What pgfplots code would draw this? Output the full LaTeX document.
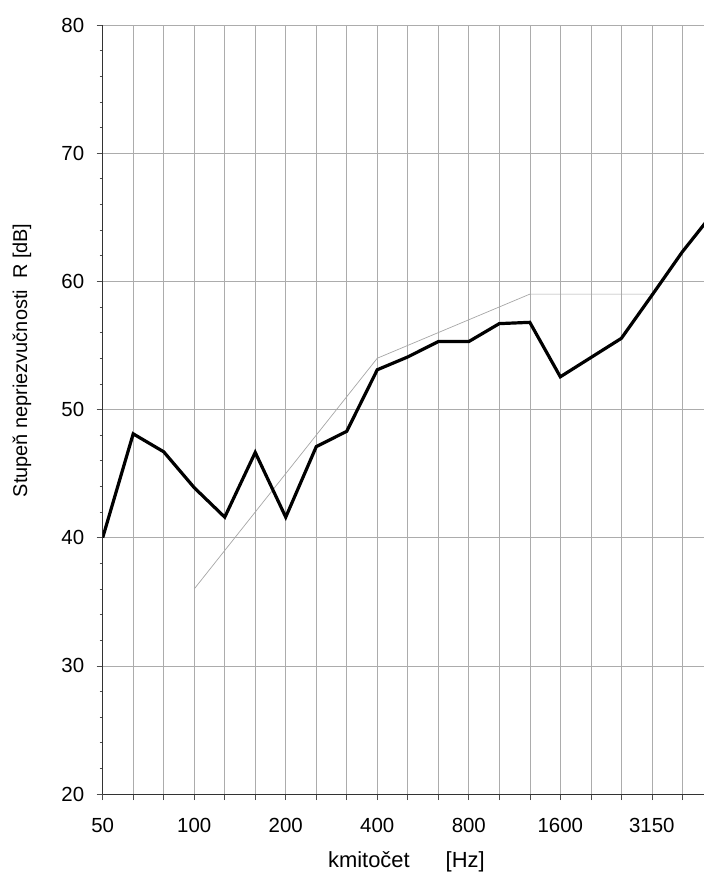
\documentclass[border=0pt]{standalone}
\usepackage{pgfplots}
\pgfplotsset{compat=1.18}
\usepackage{fontspec}
\setmainfont{Liberation Sans}
\begin{document}
\begin{tikzpicture}[x=1bp,y=1bp]
\path[use as bounding box] (0,0) rectangle (704,873);
\begin{axis}[
  at={(102.7bp,79bp)}, anchor=south west,
  scale only axis, width=601.3bp, height=769bp,
  xmin=0, xmax=19.71, ymin=20, ymax=80,
  axis x line*=bottom, axis y line*=left,
  x axis line style={-}, y axis line style={-},
  axis line style={black!80, line width=0.8bp},
  xtick={0,...,19},
  xticklabels={50,,,100,,,200,,,400,,,800,,,1600,,,3150,},
  ytick={20,30,...,80},
  minor ytick={22,24,...,78},
  tick align=outside,
  major tick length=6bp, minor tick length=3bp,
  tick style={black!70, line width=0.6bp},
  xmajorgrids, ymajorgrids,
  major grid style={gray!65, line width=0.6bp},
  /pgf/number format/assume math mode=true,
  tick label style={font=\fontsize{20.5}{24}\selectfont},
  xticklabel style={anchor=base, yshift=-32bp},
  yticklabel style={xshift=-9bp},
  ylabel={Stupeň nepriezvučnosti\ \ R [dB]},
  ylabel style={font=\fontsize{20}{24}\selectfont, at={(axis description cs:-0.1342,0.564)}, anchor=center},
  xlabel={kmitočet\hspace{36bp}[Hz]},
  xlabel style={font=\fontsize{22}{26}\selectfont, at={(axis description cs:0.505,0)}, anchor=base, yshift=-73bp},
]
\addplot[gray!70, line width=0.7bp] table {
x y
3 36
4 39
5 42
6 45
7 48
8 51
9 54
10 55
11 56
12 57
13 58
14 59
15 59
16 59
17 59
18 59
};
\addplot[black, line width=3.2bp, line join=miter] table {
x y
0 40.0
1 48.1
2 46.7
3 43.9
4 41.6
5 46.65
6 41.6
7 47.1
8 48.3
9 53.1
10 54.1
11 55.3
12 55.3
13 56.7
14 56.8
15 52.55
16 54.05
17 55.55
18 58.9
19 62.3
20 65.3
};
\end{axis}
\end{tikzpicture}
\end{document}
